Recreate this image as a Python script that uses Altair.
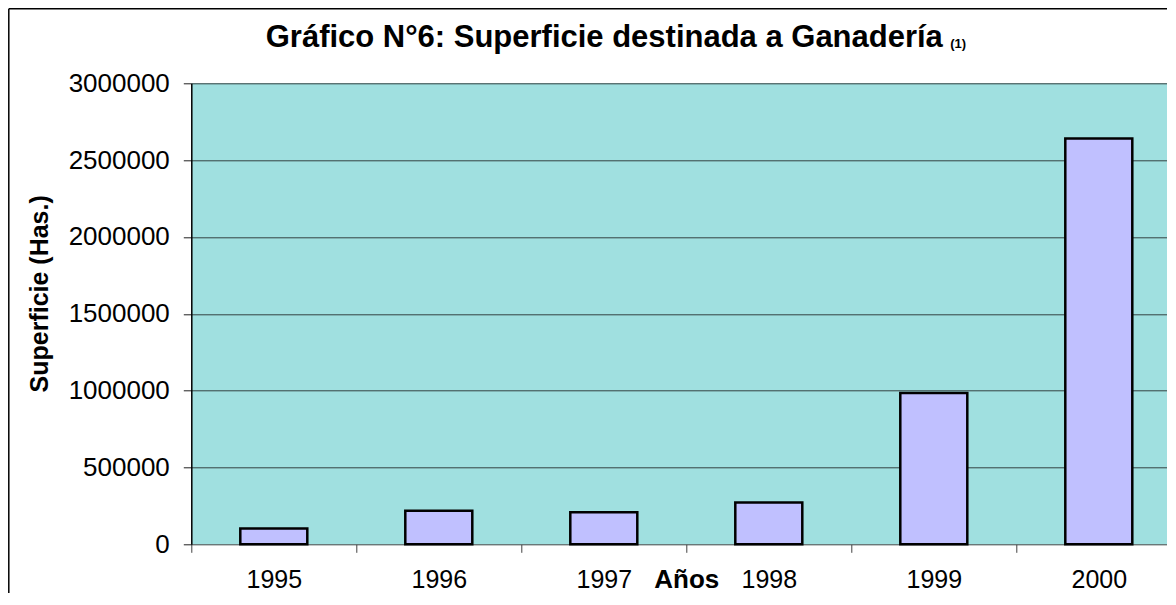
import altair as alt
import pandas as pd

# ---- data ----
YEARS = [1995, 1996, 1997, 1998, 1999, 2000]
SUPERFICIE = [103000, 218000, 209000, 272000, 985000, 2640000]
Y_TICKS = [0, 500000, 1000000, 1500000, 2000000, 2500000, 3000000]
TITLE = "Gráfico N°6: Superficie destinada a Ganadería"
TITLE_NOTE = "(1)"
X_TITLE = "Años"
Y_TITLE = "Superficie (Has.)"

FONT = "Liberation Sans"
W = 976          # plot width (runs to the right edge of the window)
H = 461          # plot height
STEP = 165       # pixels per year slot
PAD = {"left": 183.3, "top": 75.3, "right": 0, "bottom": 48.7}

df = pd.DataFrame({"year": YEARS, "sup": SUPERFICIE})
x_domain = [YEARS[0] - 0.5, YEARS[0] - 0.5 + W / STEP]

bars = alt.Chart(df).mark_bar(
    width=67, fill="#C0C0FF", stroke="#000000", strokeWidth=2.5
).encode(
    x=alt.X(
        "year:Q",
        scale=alt.Scale(domain=x_domain, nice=False, zero=False, padding=0),
        axis=alt.Axis(
            values=YEARS, format="d",
            tickOffset=-STEP / 2, labelOffset=STEP / 2,
            tickSize=8, tickColor="#404040", tickWidth=1,
            labelFontSize=25, labelPadding=35.3, labelBaseline="alphabetic",
            labelColor="#000000",
            labelFlush=False, labelOverlap=False,
            domain=False, grid=False,
            title=X_TITLE, titleX=495, titleY=43, titleBaseline="alphabetic",
            titleAlign="center", titleFontSize=26, titleFontWeight="bold",
            titleColor="#000000",
        ),
    ),
    y=alt.Y(
        "sup:Q",
        scale=alt.Scale(domain=[0, 3000000], nice=False, padding=0),
        axis=alt.Axis(
            values=Y_TICKS, format="d",
            tickSize=8, tickColor="#202020", tickWidth=1,
            labelFontSize=26, labelPadding=14, labelColor="#000000",
            labelFlush=False, labelOverlap=False,
            domain=True, domainColor="#000000", domainWidth=1.5,
            grid=True, gridColor="#334040", gridWidth=1,
            title=Y_TITLE, titleX=-144, titleY=210, titleAngle=270,
            titleBaseline="alphabetic", titleAlign="center",
            titleFontSize=25, titleFontWeight="bold", titleColor="#000000",
        ),
    ),
)

title_df = pd.DataFrame({"t": [TITLE]})
title = alt.Chart(title_df).mark_text(
    font=FONT, fontSize=31, fontWeight="bold", align="center",
    baseline="alphabetic", color="#000000"
).encode(text="t:N", x=alt.value(413), y=alt.value(-36.6))

note_df = pd.DataFrame({"t": [TITLE_NOTE]})
note = alt.Chart(note_df).mark_text(
    font=FONT, fontSize=13, fontWeight="bold", align="left",
    baseline="alphabetic", color="#000000"
).encode(text="t:N", x=alt.value(759), y=alt.value(-35.5))

frame_df = pd.DataFrame({"k": [0]})
left_border = alt.Chart(frame_df).mark_rule(color="#000000", strokeWidth=1.5).encode(
    x=alt.value(-182.5), y=alt.value(-74.5), y2=alt.value(H + 60)
)
top_border = alt.Chart(frame_df).mark_rule(color="#000000", strokeWidth=1.5).encode(
    x=alt.value(-182.5), x2=alt.value(W), y=alt.value(-74.5)
)

chart = alt.layer(bars, title, note, left_border, top_border).properties(
    width=W, height=H, padding=PAD, background="#ffffff",
    autosize=alt.AutoSizeParams(type="none"),
).configure_view(
    fill="#A0E0E0", strokeWidth=0
).configure_axis(
    labelFont=FONT, titleFont=FONT
).configure_text(font=FONT)

chart.save("out.html", embed_options={"renderer": "svg", "actions": False})
